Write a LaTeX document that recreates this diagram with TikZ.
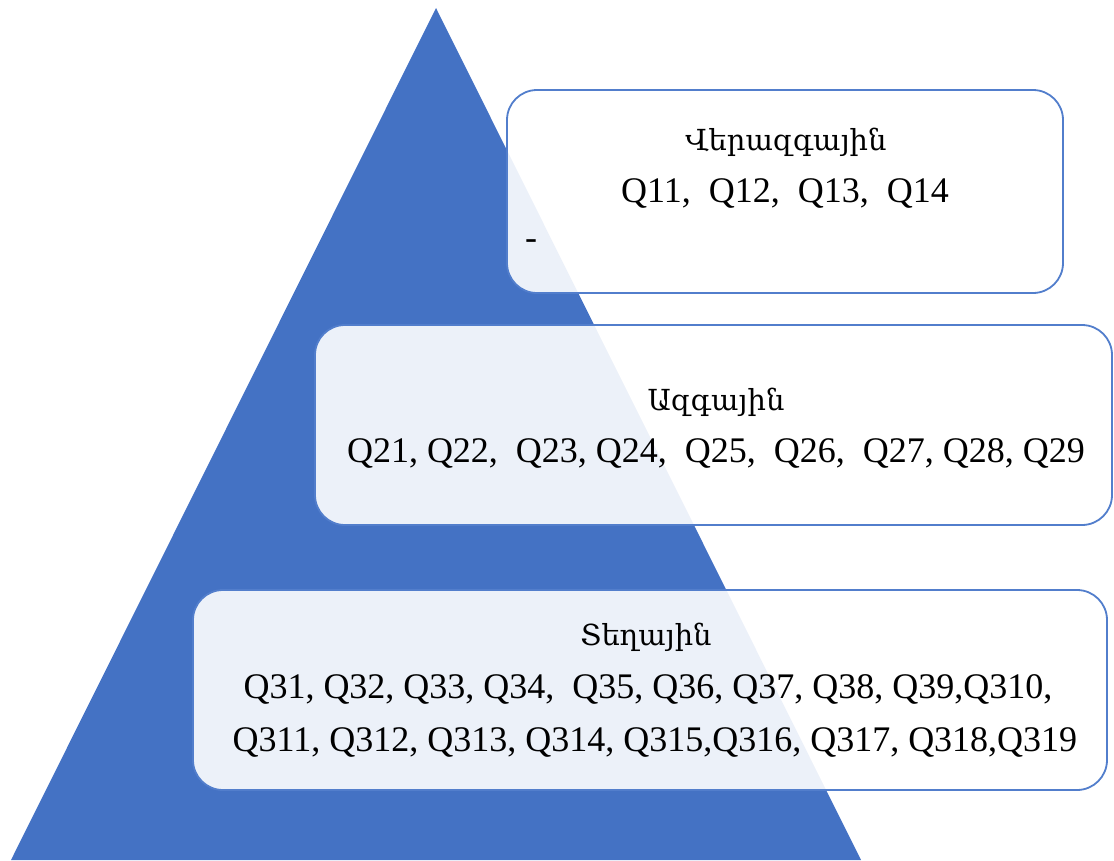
\documentclass[tikz,border=0pt]{standalone}
\usepackage{fontspec}
\setmainfont{Liberation Serif}
\newfontfamily\armfont{DejaVu Serif}
\usetikzlibrary{positioning}
\definecolor{PyrBlue}{RGB}{68,114,196}
\definecolor{BoxLine}{RGB}{82,126,204}
\tikzset{
	levelbox/.style={
		draw=BoxLine, line width=1.8pt, rounded corners=30pt,
		fill=white, fill opacity=0.9, inner sep=0pt},
	qlist/.style={font=\fontsize{36}{40}\selectfont, inner sep=0pt},
	lvlname/.style={font=\fontsize{29}{34}\selectfont\armfont, inner sep=0pt}
}

\begin{document}
\begin{tikzpicture}[x=1pt,y=-1pt]
	\useasboundingbox (0,0) rectangle (1114,860);
	\fill[PyrBlue] (436,8) -- (861,860) -- (11,860) -- cycle;
	% three levels
	\node[levelbox, minimum width=556pt, minimum height=203pt] (glob) at (785,191.5) {};
	\node[levelbox, minimum width=797pt, minimum height=200pt] (natl) at (713.5,425) {};
	\node[levelbox, minimum width=914pt, minimum height=200pt] (locl) at (650,690) {};
	\node[lvlname] (globname) at (786,142) {Վերազգային};
	\node[qlist] (globq) at (785,193) {Q11,\ \ Q12,\ \ Q13,\ \ Q14};
	\node[qlist] (globdash) at (531,245) {-};
	\node[lvlname] (natlname) at (716,402) {Ազգային};
	\node[qlist] (natlq) at (716,453) {Q21, Q22,\ \ Q23, Q24,\ \ Q25,\ \ Q26,\ \ Q27, Q28, Q29};
	\node[lvlname] (loclname) at (646,637) {Տեղային};
	\node[qlist] (loclqa) at (648,689) {Q31, Q32, Q33, Q34,\ \ Q35, Q36, Q37, Q38, Q39,Q310,};
	\node[qlist] (loclqb) at (655,742) {Q311, Q312, Q313, Q314, Q315,Q316, Q317, Q318,Q319};
\end{tikzpicture}
\end{document}
